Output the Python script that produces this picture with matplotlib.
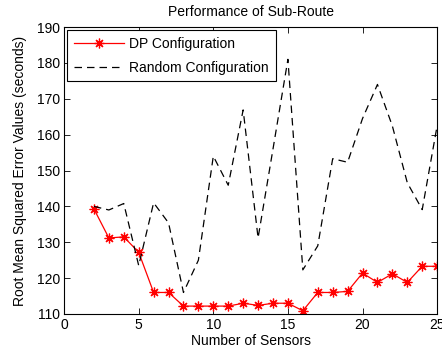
import numpy as np
import matplotlib
matplotlib.use("Agg")
import matplotlib.pyplot as plt

plt.rcParams['font.family'] = ['Liberation Sans', 'DejaVu Sans']

# sensor counts and RMSE values for both configurations
sensors = list(range(2, 26))
dp_rmse = [139.3, 131.2, 131.5, 127.2, 116.0, 116.0, 112.2, 112.2, 112.2, 112.2,
           113.0, 112.4, 113.0, 113.0, 110.9, 116.0, 116.0, 116.3, 121.4, 118.8,
           121.2, 118.8, 123.3, 123.3]
random_rmse = [140.0, 139.0, 140.8, 123.5, 141.0, 135.4, 116.0, 125.0, 154.0, 145.9,
               166.9, 131.2, 156.0, 181.0, 122.3, 129.0, 153.3, 152.3, 164.5, 174.0,
               162.4, 146.6, 139.1, 162.5]

fig = plt.figure(figsize=(4.42, 3.56), dpi=100)
ax = fig.add_axes([0.145, 0.118, 0.844, 0.806])

# matlab style asterisk marker
ax.plot(sensors, dp_rmse, color='red', linewidth=0.9, marker=(8, 2, 0),
        markersize=7, markeredgewidth=0.9, label='DP Configuration')
ax.plot(sensors, random_rmse, color='black', linewidth=0.9,
        dashes=(6, 4), label='Random Configuration')

ax.set_xlim(0, 25)
ax.set_ylim(110, 190)
ax.set_xticks(np.arange(0, 26, 5))
ax.set_yticks(np.arange(110, 191, 10))
ax.tick_params(direction='in', top=True, right=True, labelsize=10, length=4,
               width=0.6, pad=3)
for s in ax.spines.values():
    s.set_linewidth(0.8)

ax.set_title('Performance of Sub-Route', fontsize=10, pad=8)
ax.set_xlabel('Number of Sensors', fontsize=10, labelpad=1)
ax.set_ylabel('Root Mean Squared Error Values (seconds)', fontsize=10, labelpad=7)

leg = ax.legend(loc='upper left', fontsize=10, fancybox=False, framealpha=1,
                edgecolor='black', handlelength=3.6, borderaxespad=0.2,
                borderpad=0.5, labelspacing=0.7, handletextpad=0.4)
leg.get_frame().set_linewidth(0.8)

fig.savefig('out.png', dpi=100)
